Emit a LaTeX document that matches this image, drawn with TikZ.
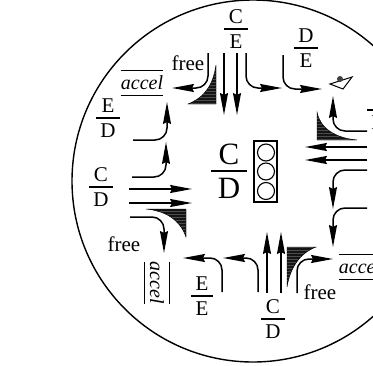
\documentclass[tikz,border=0pt]{standalone}
\usepackage{amsmath}
\usepackage{fontspec}
\setmainfont{Liberation Serif}
\usetikzlibrary{arrows.meta, patterns}
\newcommand{\lanefrac}[2]{$\genfrac{}{}{1.3pt}{1}{\mbox{\rule[-.16em]{0pt}{.66em}\hspace{0.22em}#1\hspace{0.22em}}}{\mbox{\rule{0pt}{.82em}\hspace{0.22em}#2\hspace{0.22em}}}$}

\begin{document}
\begin{tikzpicture}[
    x=1pt, y=-1pt,
    font=\fontsize{21}{23}\selectfont,
    arrow/.style={-{Stealth[length=22pt, width=8pt, inset=2pt]}, line width=1.5pt},
    turn/.style={arrow, rounded corners=12pt},
    wedge/.style={preaction={fill=black!92}, pattern=horizontal lines, pattern color=black!70},
    lane/.style={inner sep=0pt},
    rule/.style={line width=1.3pt},
    accel/.style={inner sep=0pt, minimum width=42pt, minimum height=24pt, font=\fontsize{20}{22}\selectfont\itshape}
]

\clip[use as bounding box] (0, 0) rectangle (373, 365);

\draw[line width=1.4pt] (253, 181) circle (181);

% Signal in the middle
\node[lane, font=\fontsize{31}{33}\selectfont] (main) at (229, 171) {\lanefrac{C}{D}};
\node[draw, line width=1.2pt, minimum width=23pt, minimum height=61pt, inner sep=0pt] (signal) at (265.5, 171.5) {};
\node[draw, circle, line width=1.1pt, minimum size=17pt, inner sep=0pt] (red) at (266, 152.5) {};
\node[draw, circle, line width=1.1pt, minimum size=17pt, inner sep=0pt] (amber) at (266, 171.5) {};
\node[draw, circle, line width=1.1pt, minimum size=17pt, inner sep=0pt] (green) at (266, 191) {};

% Lane labels
\node[lane] (topC) at (236, 29) {\lanefrac{C}{E}};
\node[lane] (topD) at (306, 48) {\lanefrac{D}{E}};
\node[lane] (lefE) at (108, 118) {\lanefrac{E}{D}};
\node[lane] (lefC) at (101, 187) {\lanefrac{C}{D}};
\node[lane] (botE) at (202, 296) {\lanefrac{E}{E}};
\node[lane] (botC) at (273, 319) {\lanefrac{C}{D}};
\node[lane] (rigE) at (379, 110) {\lanefrac{E}{D}};

\node[lane] (freeT) at (188, 63) {free};
\node[lane] (freeL) at (124, 244) {free};
\node[lane] (freeB) at (320, 292) {free};

\node[accel] (accelT) at (142, 83) {accel};
\node[accel, rotate=-90] (accelL) at (157, 283) {accel};
\node[accel] (accelR) at (360, 267) {accel};
\draw[rule] (accelT.north west) -- (accelT.north east);
\draw[rule] (accelT.south west) -- (accelT.south east);
\draw[rule] (accelL.north west) -- (accelL.north east);
\draw[rule] (accelL.south west) -- (accelL.south east);
\draw[rule] (accelR.north west) -- (accelR.north east);
\draw[rule] (accelR.south west) -- (accelR.south east);

% Top arm
\coordinate (topLa) at (208, 53);
\coordinate (topLb) at (172, 88);
\coordinate (topSa) at (224, 53);
\coordinate (topSb) at (224, 115);
\coordinate (topTa) at (237, 53);
\coordinate (topTb) at (237, 115);
\coordinate (topRa) at (246, 53);
\coordinate (topRb) at (282, 88);
\coordinate (topDa) at (283, 55);
\coordinate (topDb) at (322, 89);
\draw[turn] (topLa) |- (topLb);
\draw[arrow] (topSa) -- (topSb);
\draw[arrow] (topTa) -- (topTb);
\draw[turn] (topRa) |- (topRb);
\draw[turn] (topDa) |- (topDb);
\draw[wedge] (216, 65) .. controls (213, 85) and (205, 97) .. (188, 104) -- (216, 104) -- cycle;

% Left arm
\coordinate (lefUa) at (133, 140);
\coordinate (lefUb) at (167, 102);
\coordinate (lefVa) at (132, 177);
\coordinate (lefVb) at (166, 142);
\coordinate (lefSa) at (129, 189);
\coordinate (lefSb) at (192, 189);
\coordinate (lefTa) at (129, 203);
\coordinate (lefTb) at (192, 203);
\coordinate (lefDa) at (130, 217);
\coordinate (lefDb) at (164, 253);
\draw[turn] (lefUa) -| (lefUb);
\draw[turn] (lefVa) -| (lefVb);
\draw[arrow] (lefSa) -- (lefSb);
\draw[arrow] (lefTa) -- (lefTb);
\draw[turn] (lefDa) -| (lefDb);
\draw[wedge] (146, 209) .. controls (166, 211) and (180, 220) .. (186, 237) -- (186, 209) -- cycle;

% Bottom arm
\coordinate (botLa) at (222, 292);
\coordinate (botLb) at (183, 258);
\coordinate (botMa) at (258, 292);
\coordinate (botMb) at (223, 258);
\coordinate (botSa) at (267, 293);
\coordinate (botSb) at (267, 232);
\coordinate (botTa) at (281, 293);
\coordinate (botTb) at (281, 232);
\coordinate (botRa) at (297, 293);
\coordinate (botRb) at (333, 259);
\draw[turn] (botLa) |- (botLb);
\draw[turn] (botMa) |- (botMb);
\draw[arrow] (botSa) -- (botSb);
\draw[arrow] (botTa) -- (botTb);
\draw[turn] (botRa) |- (botRb);
\draw[wedge] (316, 247) .. controls (300, 253) and (290, 268) .. (287, 287) -- (287, 247) -- cycle;

% Right arm
\coordinate (rigUa) at (367, 131);
\coordinate (rigUb) at (333, 96);
\coordinate (rigSa) at (367, 147);
\coordinate (rigSb) at (305, 147);
\coordinate (rigTa) at (367, 160);
\coordinate (rigTb) at (305, 160);
\coordinate (rigDa) at (367, 170);
\coordinate (rigDb) at (333, 209);
\coordinate (rigEa) at (367, 208);
\coordinate (rigEb) at (333, 247);
\draw[turn] (rigUa) -| (rigUb);
\draw[arrow] (rigSa) -- (rigSb);
\draw[arrow] (rigTa) -- (rigTb);
\draw[turn] (rigDa) -| (rigDb);
\draw[turn] (rigEa) -| (rigEb);
\draw[wedge] (317, 112) .. controls (320, 128) and (335, 138) .. (357, 140) -- (317, 140) -- cycle;

% Pedestrian
\draw[line width=1pt, fill=white] (330, 84) -- (352, 77) -- (343, 89) -- cycle;
\node[circle, fill=black!75, minimum size=6pt, inner sep=0pt] (walker) at (340, 79) {};

\end{tikzpicture}
\end{document}
